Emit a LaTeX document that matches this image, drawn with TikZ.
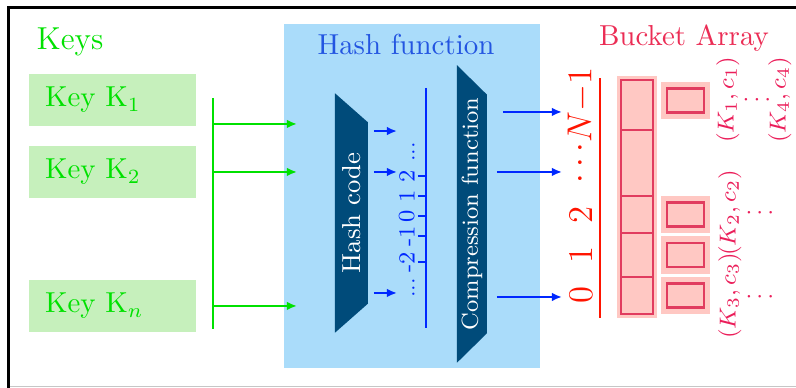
\documentclass[tikz,border=0pt]{standalone}
\usepackage{tikz}
\usetikzlibrary{shapes.geometric,arrows.meta,positioning,calc,fit,backgrounds}
\usepackage{xcolor}

\definecolor{keygreen}{RGB}{0,225,0}
\definecolor{keyfill}{RGB}{198,240,188}
\definecolor{hashbg}{RGB}{170,220,250}
\definecolor{hashtext}{RGB}{35,85,225}
\definecolor{hashdark}{RGB}{0,75,122}
\definecolor{hashblue}{RGB}{0,40,255}
\definecolor{bucketred}{RGB}{255,20,0}
\definecolor{buckettitle}{RGB}{235,45,85}
\definecolor{bucketfill}{RGB}{255,200,195}
\definecolor{bucketline}{RGB}{225,60,95}
\definecolor{pairtext}{RGB}{235,30,90}

\begin{document}
\begin{tikzpicture}[font=\normalsize,
  keybox/.style={fill=keyfill, text=keygreen, minimum width=2.03cm, minimum height=0.633cm,
    text width=1.64cm, inner xsep=0.195cm, align=left},
  keyline/.style={keygreen, line width=0.9pt},
  hashline/.style={hashblue, line width=0.7pt},
  arr/.style={-{Latex[length=3.5pt,width=3pt]}},
  hashshape/.style={trapezium, shape border rotate=180, rotate=90, trapezium stretches=true,
    fill=hashdark, text=white, inner sep=1pt},
  numlab/.style={rotate=90, anchor=south, text=hashblue, font=\footnotesize, inner sep=1pt},
  cell/.style={draw=bucketline, line width=0.8pt, minimum width=0.389cm, inner sep=0pt, outer sep=0pt},
  idx/.style={rotate=90, text=bucketred, font=\large},
  slotbg/.style={fill=bucketfill, minimum width=0.596cm, minimum height=0.46cm, inner sep=0pt},
  slot/.style={draw=bucketline, line width=0.9pt, minimum width=0.45cm, minimum height=0.292cm, inner sep=0pt},
  pair/.style={rotate=90, text=pairtext, font=\footnotesize}]

  \useasboundingbox (0,0) rectangle (9.684,4.720);

  % frame
  \draw[line width=1.05pt] (0.109,0) -- (0.109,4.629) -- (9.684,4.629);
  \draw[gray!45] (0.12,0.018) -- (9.684,0.018);

  % hash function
  \node[fill=hashbg, minimum width=3.114cm, minimum height=4.185cm] (hashbg) at (5.012,2.336) {};
  \node[text=hashtext] (hashtitle) at (4.939,4.173) {Hash function};

  % keys
  \node[text=keygreen, font=\fontsize{11}{13}\selectfont] (keys) at (0.852,4.209) {Keys};
  \node[keybox] (k1) at (1.369,3.503) {Key K$_1$};
  \node[keybox] (k2) at (1.369,2.628) {Key K$_2$};
  \node[keybox] (kn) at (1.369,0.998) {Key K$_n$};

  \coordinate (bustop) at (2.591,3.528);
  \coordinate (busbot) at (2.591,0.718);
  \coordinate (bus1) at (2.591,3.212);
  \coordinate (bus2) at (bustop |- k2);
  \coordinate (busn) at (bustop |- kn);
  \draw[keyline] (bustop) -- (busbot);
  \foreach \b in {bus1,bus2,busn}
    \draw[keyline,arr] (\b) -- ++(1.022,0);

  \node[hashshape, minimum width=2.92cm, minimum height=0.401cm,
    trapezium left angle=50, trapezium right angle=50, font=\small]
    (hcode) at (4.276,2.129) {Hash code};
  \node[hashshape, minimum width=3.552cm, minimum height=0.365cm,
    trapezium left angle=42, trapezium right angle=42, font=\footnotesize]
    (comp) at (5.742,2.117) {Compression function};

  \coordinate (hc1) at (4.550,3.126);
  \coordinate (hc2) at (4.550,2.628);
  \coordinate (hc3) at (4.550,1.156);
  \foreach \h in {hc1,hc2,hc3}
    \draw[hashline,arr] (\h) -- ++(0.28,0);

  % integers
  \coordinate (numtop) at (5.182,3.650);
  \coordinate (numbot) at (5.182,0.730);
  \draw[hashline] (numtop) -- (numbot);
  \foreach \y/\lab in {2.579/2, 2.336/1, 2.092/0, 1.849/-1, 1.533/-2} {
    \draw[hashline] (5.085,\y) -- (5.182,\y);
    \node[numlab] at (5.085,\y) {\lab};
  }
  \node[numlab, font=\scriptsize] at (5.085,2.871) {...};
  \node[numlab, font=\scriptsize] at (5.085,1.217) {...};

  \coordinate (c1) at (6.119,3.358);
  \coordinate (c2) at (6.046,2.628);
  \coordinate (c3) at (6.046,1.107);
  \draw[hashline,arr] (c1) -- ++(0.718,0);
  \draw[hashline,arr] (c2) -- ++(0.791,0);
  \draw[hashline,arr] (c3) -- ++(0.791,0);

  % bucket array
  \node[text=buckettitle] (bucket) at (8.321,4.258) {Bucket Array};

  \coordinate (idxtop) at (7.299,3.771);
  \coordinate (idxbot) at (7.299,0.852);
  \draw[bucketred, line width=0.8pt] (idxtop) -- (idxbot);

  \node[cell, minimum height=0.450cm] (b0) at (7.749,1.125) {};
  \node[cell, minimum height=0.535cm, above=0pt of b0] (b1) {};
  \node[cell, minimum height=0.450cm, above=0pt of b1] (b2) {};
  \node[cell, minimum height=0.803cm, above=0pt of b2] (b3) {};
  \node[cell, minimum height=0.608cm, above=0pt of b3] (b4) {};
  \begin{scope}[on background layer]
    \node[fill=bucketfill, inner sep=0.05cm, fit=(b0)(b4)] (bcol) {};
  \end{scope}

  \coordinate (idxcol) at (7.068,0);
  \node[idx] at (idxcol |- b0) {$0$};
  \node[idx] at (idxcol |- b1) {$1$};
  \node[idx] at (idxcol |- b2) {$2$};
  \node[idx] at (idxcol |- b3) {$\cdots$};
  \node[idx] at (idxcol |- b4) {$N{-}1$};

  % chains
  \coordinate (slotcol) at (8.339,0);
  \node[slotbg] (s4) at ($(slotcol |- b4)+(0,0.055)$) {};
  \node[slotbg] (s2) at (slotcol |- b2) {};
  \node[slotbg] (s1) at (slotcol |- b1) {};
  \node[slotbg] (s0) at (slotcol |- b0) {};
  \foreach \s in {s4,s2,s1,s0}
    \node[slot] at (\s) {};

  \node[pair] (p1) at (8.856,3.503) {$(K_1,c_1)$};
  \node[pair] (p4) at (9.489,3.503) {$(K_4,c_4)$};
  \node[text=pairtext, font=\footnotesize] at (9.209,3.503) {$\cdots$};
  \node[pair] (p2) at (8.880,2.129) {$(K_2,c_2)$};
  \node[text=pairtext, font=\footnotesize] at (9.245,2.129) {$\cdots$};
  \node[pair] (p3) at (8.880,1.119) {$(K_3,c_3)$};
  \node[text=pairtext, font=\footnotesize] at (9.245,1.107) {$\cdots$};

\end{tikzpicture}
\end{document}
